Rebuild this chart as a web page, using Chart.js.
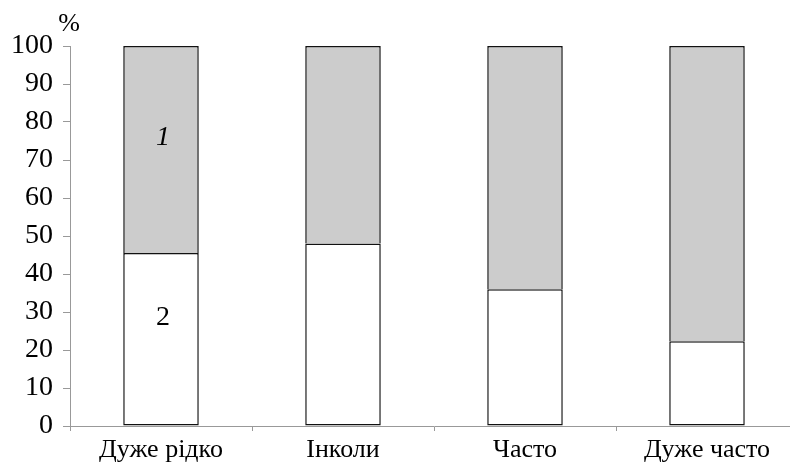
<!DOCTYPE html>
<html><head><meta charset="utf-8">
<script src="https://cdn.jsdelivr.net/npm/chart.js@4/dist/chart.umd.min.js"></script>
<style>html,body{margin:0;padding:0;overflow:hidden;background:#fff}#wrap{width:800px;height:464px}</style>
</head><body><div id="wrap"><canvas id="c"></canvas></div>
<script>
const categories = ['Дуже рідко', 'Інколи', 'Часто', 'Дуже часто'];
const series2 = [45.5, 48.0, 36.0, 22.3];   // white, bottom ("2")
const series1 = [54.5, 52.0, 64.0, 77.7];   // grey, top ("1")
const yTicks = [0, 10, 20, 30, 40, 50, 60, 70, 80, 90, 100];
const seriesLabels = [
  {text: '1', cat: 0, value: 76, italic: true},
  {text: '2', cat: 0, value: 28.5, italic: false}
];
const FONT = '"Liberation Serif", "Times New Roman", serif';

const labelPlugin = {
  id: 'labels',
  afterDraw(chart) {
    const ctx = chart.ctx, x = chart.scales.x, y = chart.scales.y;
    ctx.save();
    ctx.fillStyle = '#000';
    ctx.textAlign = 'center';
    ctx.textBaseline = 'middle';
    seriesLabels.forEach(l => {
      ctx.font = (l.italic ? 'italic ' : '') + '28px ' + FONT;
      ctx.fillText(l.text, x.getPixelForValue(l.cat) + 2, y.getPixelForValue(l.value));
    });
    ctx.font = '26px ' + FONT;
    ctx.fillText('%', chart.chartArea.left - 1, chart.chartArea.top - 22);
    ctx.restore();
  }
};

new Chart(document.getElementById('c'), {
  type: 'bar',
  data: {
    labels: categories,
    datasets: [
      {label: '2', data: series2, backgroundColor: '#ffffff', borderColor: '#111', borderWidth: 1.5, borderSkipped: false, categoryPercentage: 1, barPercentage: 0.415},
      {label: '1', data: series1, backgroundColor: '#cccccc', borderColor: '#111', borderWidth: 1.5, borderSkipped: 'bottom', categoryPercentage: 1, barPercentage: 0.415}
    ]
  },
  options: {
    responsive: true, maintainAspectRatio: false, animation: false,
    layout: {padding: {top: 46, right: 2, left: 0, bottom: 0}},
    plugins: {legend: {display: false}, tooltip: {enabled: false}},
    scales: {
      x: {
        stacked: true,
        grid: {drawOnChartArea: false, drawTicks: true, tickLength: 5, color: '#999', offset: true},
        border: {display: true, color: '#999'},
        ticks: {color: '#000', font: {family: FONT, size: 26}, padding: 4, maxRotation: 0},
        afterFit(s) { s.height = 38; }
      },
      y: {
        stacked: true, min: 0, max: 100,
        afterBuildTicks(s) { s.ticks = yTicks.map(v => ({value: v})); },
        grid: {drawOnChartArea: false, drawTicks: true, tickLength: 7, color: '#999'},
        border: {display: true, color: '#999'},
        ticks: {color: '#000', font: {family: FONT, size: 28}, padding: 10},
        afterFit(s) { s.width = 70; }
      }
    }
  },
  plugins: [labelPlugin]
});
</script></body></html>
